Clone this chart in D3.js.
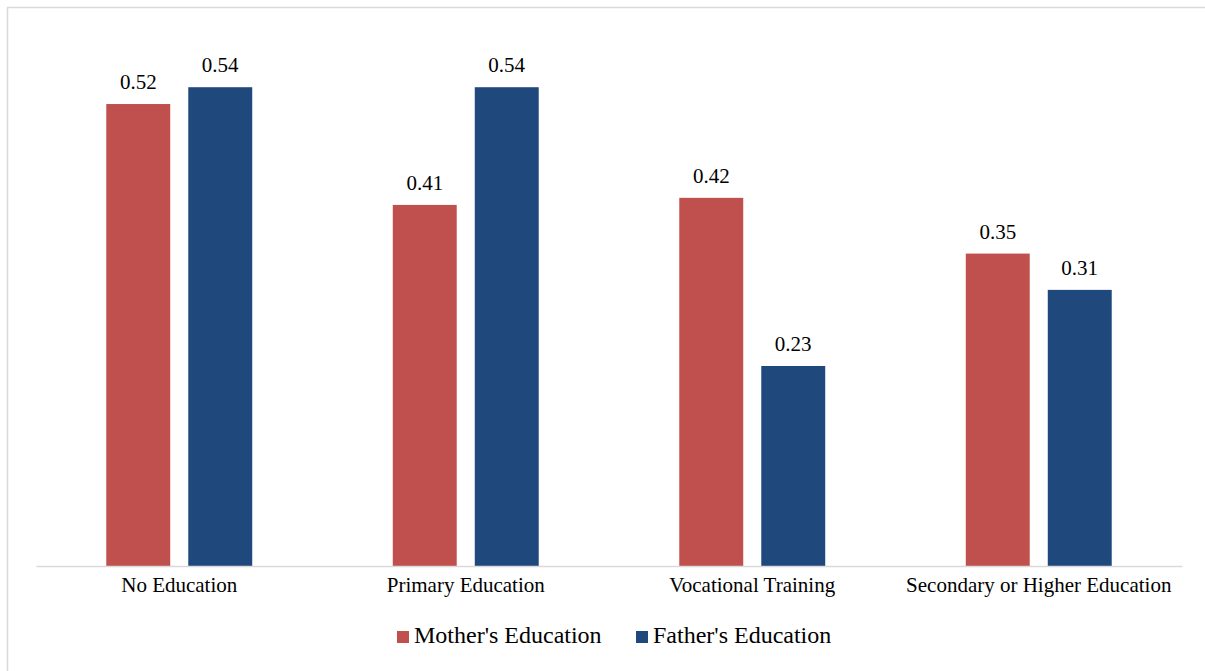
<html>
  <head>
    <title>Education bar chart</title>
    <script src="https://d3js.org/d3.v7.min.js"></script>
    <style>
      body { margin: 0; background: #fff; }
    </style>
  </head>
  <body>
    <svg id="visual" width="1205" height="671"></svg>
    <script type="text/javascript">
    // data
    var categories = ["No Education", "Primary Education", "Vocational Training", "Secondary or Higher Education"];
    var seriesNames = ["Mother's Education", "Father's Education"];
    var mothers = [0.522, 0.408, 0.416, 0.353];
    var fathers = [0.541, 0.541, 0.226, 0.312];
    var colors = ["#C0504D", "#1F497D"];

    var serif = "'Liberation Serif', Tinos, 'Times New Roman', Times, 'DejaVu Serif', serif";

    var svg = d3.select("#visual");

    // outer chart frame
    svg.append("rect")
        .attr("x", 7.5).attr("y", 7.5)
        .attr("width", 1205).attr("height", 671)
        .attr("fill", "none")
        .attr("stroke", "#d9d9d9")
        .attr("stroke-width", 1.5);

    var x0 = d3.scaleBand()
        .domain(categories)
        .range([36, 1182]);

    var x1 = d3.scaleBand()
        .domain(seriesNames)
        .range([0, x0.bandwidth()])
        .paddingInner(0.22)
        .paddingOuter(0.857);

    var y = d3.scaleLinear()
        .domain([0, 0.6])
        .range([566, 35]);

    var rows = categories.map(function(c, i) {
        return { cat: c, vals: [mothers[i], fathers[i]] };
    });

    var group = svg.selectAll(".grp")
        .data(rows)
        .enter()
        .append("g")
        .attr("class", "grp")
        .attr("transform", function(d) { return "translate(" + x0(d.cat) + ",0)"; });

    var bars = group.selectAll(".bar")
        .data(function(d) {
            return d.vals.map(function(v, j) { return { s: seriesNames[j], v: v, j: j }; });
        })
        .enter();

    bars.append("rect")
        .attr("x", function(d) { return x1(d.s); })
        .attr("y", function(d) { return y(d.v); })
        .attr("width", x1.bandwidth())
        .attr("height", function(d) { return y(0) - y(d.v); })
        .attr("fill", function(d) { return colors[d.j]; });

    bars.append("text")
        .attr("x", function(d) { return x1(d.s) + x1.bandwidth() / 2; })
        .attr("y", function(d) { return y(d.v) - 15; })
        .attr("text-anchor", "middle")
        .style("font-family", serif)
        .style("font-size", "21px")
        .attr("fill", "#000")
        .text(function(d) { return d3.format(".2f")(d.v); });

    // category axis
    var xAxis = svg.append("g")
        .attr("transform", "translate(0," + y(0) + ")")
        .call(d3.axisBottom(x0).tickSize(0).tickPadding(0));
    xAxis.attr("font-family", null).attr("font-size", null);
    xAxis.select(".domain")
        .attr("stroke", "#d9d9d9")
        .attr("stroke-width", 1.5);
    xAxis.selectAll("text")
        .attr("dy", 0)
        .attr("y", 26)
        .style("font-family", serif)
        .style("font-size", "21px")
        .attr("fill", "#000");

    // legend
    var legendX = [397, 636];
    var legend = svg.selectAll(".leg")
        .data(seriesNames)
        .enter()
        .append("g")
        .attr("class", "leg")
        .attr("transform", function(d, i) { return "translate(" + legendX[i] + ",631)"; });
    legend.append("rect")
        .attr("width", 12).attr("height", 12)
        .attr("fill", function(d, i) { return colors[i]; });
    legend.append("text")
        .attr("x", 17)
        .attr("y", 12)
        .style("font-family", serif)
        .style("font-size", "24px")
        .attr("fill", "#000")
        .text(function(d) { return d; });
    </script>
  </body>
</html>
